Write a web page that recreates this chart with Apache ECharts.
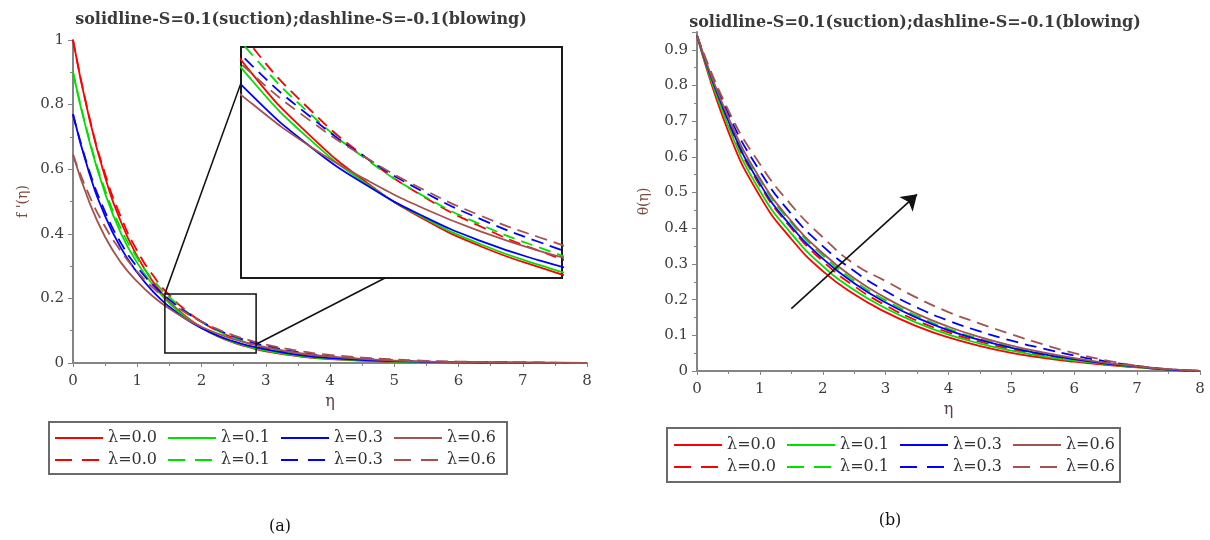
<!DOCTYPE html>
<html>
<head>
<meta charset="utf-8">
<title>f'(η) and θ(η) profiles</title>
<script src="https://cdn.jsdelivr.net/npm/echarts@6/dist/echarts.min.js"></script>
<style>
html, body { margin: 0; padding: 0; background: #fff; }
#chart { width: 1210px; height: 540px; }
</style>
</head>
<body>
<div id="chart"></div>
<script>
// eta grid and profiles
var etaA = [0, 0.25, 0.5, 0.75, 1, 1.25, 1.5, 1.75, 2, 2.25, 2.5, 2.75, 3, 3.5, 4, 5, 6, 7, 8];

// (a) f'(eta), solid = S=0.1 (suction)
var fRedS   = [1.0, 0.76, 0.575, 0.435, 0.33, 0.25, 0.19, 0.145, 0.11, 0.083, 0.063, 0.048, 0.036, 0.021, 0.012, 0.004, 0.0015, 0.0005, 0];
var fGreenS = [0.9, 0.69, 0.525, 0.40, 0.31, 0.24, 0.185, 0.142, 0.109, 0.084, 0.0645, 0.0496, 0.038, 0.022, 0.013, 0.0045, 0.0016, 0.0005, 0];
var fBlueS  = [0.77, 0.59, 0.455, 0.355, 0.28, 0.22, 0.174, 0.137, 0.108, 0.085, 0.067, 0.053, 0.042, 0.025, 0.015, 0.0055, 0.002, 0.0007, 0];
var fBrownS = [0.645, 0.50, 0.39, 0.31, 0.252, 0.205, 0.168, 0.137, 0.112, 0.091, 0.074, 0.06, 0.049, 0.031, 0.02, 0.0075, 0.0028, 0.001, 0];
// dashed = S=-0.1 (blowing)
var fRedD   = [1.0, 0.765, 0.585, 0.45, 0.347, 0.27, 0.21, 0.164, 0.128, 0.0995, 0.0775, 0.06, 0.0465, 0.028, 0.017, 0.0063, 0.0024, 0.0009, 0];
var fGreenD = [0.9, 0.695, 0.535, 0.415, 0.325, 0.256, 0.204, 0.161, 0.127, 0.1, 0.079, 0.0625, 0.049, 0.03, 0.018, 0.0068, 0.0026, 0.001, 0];
var fBlueD  = [0.77, 0.597, 0.468, 0.37, 0.297, 0.241, 0.196, 0.159, 0.128, 0.103, 0.083, 0.0665, 0.053, 0.034, 0.021, 0.0082, 0.0032, 0.0012, 0];
var fBrownD = [0.645, 0.52, 0.422, 0.345, 0.283, 0.232, 0.19, 0.156, 0.128, 0.1047, 0.0855, 0.07, 0.057, 0.038, 0.025, 0.011, 0.0045, 0.0017, 0];

// (b) theta(eta)
var etaB = [0, 0.5, 1, 1.5, 2, 2.5, 3, 3.5, 4, 4.5, 5, 5.5, 6, 6.5, 7, 7.5, 8];
var tRedS   = [0.94, 0.67, 0.49, 0.37, 0.28, 0.215, 0.165, 0.125, 0.094, 0.07, 0.051, 0.037, 0.026, 0.017, 0.01, 0.004, 0];
var tGreenS = [0.94, 0.685, 0.505, 0.385, 0.294, 0.227, 0.176, 0.135, 0.102, 0.077, 0.057, 0.041, 0.029, 0.019, 0.011, 0.004, 0];
var tBlueS  = [0.94, 0.70, 0.525, 0.405, 0.315, 0.246, 0.192, 0.149, 0.114, 0.087, 0.065, 0.047, 0.033, 0.021, 0.012, 0.004, 0];
var tBrownS = [0.94, 0.71, 0.54, 0.42, 0.33, 0.26, 0.205, 0.16, 0.124, 0.095, 0.071, 0.052, 0.036, 0.023, 0.013, 0.005, 0];
var tRedD   = [0.94, 0.695, 0.52, 0.40, 0.308, 0.238, 0.184, 0.141, 0.108, 0.082, 0.061, 0.044, 0.031, 0.02, 0.011, 0.004, 0];
var tGreenD = [0.94, 0.705, 0.535, 0.415, 0.324, 0.253, 0.198, 0.154, 0.118, 0.09, 0.068, 0.049, 0.034, 0.022, 0.012, 0.004, 0];
var tBlueD  = [0.94, 0.72, 0.56, 0.44, 0.35, 0.28, 0.224, 0.178, 0.141, 0.111, 0.085, 0.063, 0.043, 0.027, 0.014, 0.005, 0];
var tBrownD = [0.94, 0.73, 0.58, 0.465, 0.375, 0.30, 0.252, 0.205, 0.165, 0.133, 0.103, 0.075, 0.05, 0.03, 0.015, 0.005, 0];

var lambdaLabels = ['λ=0.0', 'λ=0.1', 'λ=0.3', 'λ=0.6'];
var titleText = 'solidline-S=0.1(suction);dashline-S=-0.1(blowing)';

// zoomed window in (a) and the arrow in (b), in data units
var zoomBox = [1.43, 0.031, 2.85, 0.214];
var insetX = [1.45, 2.85];
var insetY = [0.04, 0.21];
var arrowFrom = [1.5, 0.175];
var arrowTo = [3.5, 0.495];

var colors = ['#ff0000', '#00e000', '#0000ff', '#a5524e'];
var serif = 'DejaVu Serif';
var axisGray = '#858585';
var dash = [12, 7];

var chart = echarts.init(document.getElementById('chart'));

function pairs(xs, ys) {
    return xs.map(function (x, i) { return [x, ys[i]]; });
}

function line(name, xs, ys, color, dashed, xi, yi) {
    return {
        name: name,
        type: 'line',
        xAxisIndex: xi,
        yAxisIndex: yi,
        data: pairs(xs, ys),
        smooth: true,
        symbol: 'none',
        silent: true,
        lineStyle: { color: color, width: 1.8, type: dashed ? dash : 'solid' },
        itemStyle: { color: color }
    };
}

function xAxisMain(gi, gap) {
    return {
        type: 'value', gridIndex: gi, min: 0, max: 8, interval: 1,
        name: 'η', nameLocation: 'middle', nameGap: gap,
        nameTextStyle: { fontFamily: serif, fontSize: 16, color: '#5a3d50' },
        axisLine: { show: true, onZero: false, lineStyle: { color: axisGray, width: 2 } },
        axisTick: { length: 4, lineStyle: { color: axisGray } },
        minorTick: { show: true, splitNumber: 2, length: 3, lineStyle: { color: axisGray } },
        axisLabel: { margin: 11, fontFamily: serif, fontSize: 15, color: '#3c3c3c' },
        splitLine: { show: false }
    };
}

function yAxisMain(gi, max, interval, name, gap, hideMax) {
    return {
        type: 'value', gridIndex: gi, min: 0, max: max, interval: interval,
        name: name, nameLocation: 'middle', nameGap: gap, nameRotate: 90,
        nameTextStyle: { fontFamily: serif, fontSize: 14, color: '#7a4b40' },
        axisLine: { show: true, onZero: false, lineStyle: { color: axisGray, width: 2 } },
        axisTick: { show: true, length: 5, lineStyle: { color: axisGray } },
        minorTick: { show: true, splitNumber: 2, length: 3, lineStyle: { color: axisGray } },
        axisLabel: { margin: 9, fontFamily: serif, fontSize: 15, color: '#3c3c3c', showMaxLabel: !hideMax },
        splitLine: { show: false }
    };
}

var fSolid = [fRedS, fGreenS, fBlueS, fBrownS];
var fDash = [fRedD, fGreenD, fBlueD, fBrownD];
var tSolid = [tRedS, tGreenS, tBlueS, tBrownS];
var tDash = [tRedD, tGreenD, tBlueD, tBrownD];

var series = [];
var namesA = { s: [], d: [] }, namesB = { s: [], d: [] };
for (var i = 0; i < 4; i++) {
    var nas = 'a:' + lambdaLabels[i] + ':s', nad = 'a:' + lambdaLabels[i] + ':d';
    var nbs = 'b:' + lambdaLabels[i] + ':s', nbd = 'b:' + lambdaLabels[i] + ':d';
    namesA.s.push(nas); namesA.d.push(nad);
    namesB.s.push(nbs); namesB.d.push(nbd);
    series.push(line(nas, etaA, fSolid[i], colors[i], false, 0, 0));
    series.push(line(nad, etaA, fDash[i], colors[i], true, 0, 0));
    // inset copy
    series.push(line(nas, etaA, fSolid[i], colors[i], false, 1, 1));
    series.push(line(nad, etaA, fDash[i], colors[i], true, 1, 1));
    series.push(line(nbs, etaB, tSolid[i], colors[i], false, 2, 2));
    series.push(line(nbd, etaB, tDash[i], colors[i], true, 2, 2));
}

// arrow in (b)
series.push({
    type: 'line', xAxisIndex: 2, yAxisIndex: 2, data: [], silent: true,
    markLine: {
        silent: true, symbol: ['none', 'arrow'], symbolSize: 15,
        label: { show: false },
        lineStyle: { color: '#111', width: 1.6, type: 'solid' },
        data: [[{ coord: arrowFrom }, { coord: arrowTo }]]
    }
});

function legendRow(left, top, names, dashed) {
    var lg = {
        left: left, top: top, padding: 0, orient: 'horizontal',
        data: names, itemWidth: 48, itemHeight: 14, itemGap: 10,
        selectedMode: false,
        itemStyle: { opacity: 0 },
        textStyle: { fontFamily: serif, fontSize: 16, color: '#333', width: 50 },
        formatter: function (n) { return n.split(':')[1]; }
    };
    if (dashed) lg.lineStyle = { type: [17, 10], width: 2 };
    return lg;
}

chart.setOption({
    animation: false,
    backgroundColor: '#fff',
    grid: [
        { left: 73, top: 40, width: 514, height: 323 },
        { left: 241, top: 47, width: 321, height: 231, show: true, borderColor: '#1a1a1a', borderWidth: 2, backgroundColor: '#fff' },
        { left: 697, top: 32, width: 503, height: 339 }
    ],
    xAxis: [
        xAxisMain(0, 28),
        { type: 'value', gridIndex: 1, min: insetX[0], max: insetX[1], show: false },
        xAxisMain(2, 29)
    ],
    yAxis: [
        yAxisMain(0, 1, 0.2, "f '(η)", 43, false),
        { type: 'value', gridIndex: 1, min: insetY[0], max: insetY[1], show: false },
        yAxisMain(2, 0.95, 0.1, 'θ(η)', 46, true)
    ],
    legend: [
        legendRow(54, 430, namesA.s, false),
        legendRow(54, 452, namesA.d, true),
        legendRow(673, 437, namesB.s, false),
        legendRow(673, 459, namesB.d, true)
    ],
    series: series
});

// annotation graphics positioned from the axes
var p0 = chart.convertToPixel({ gridIndex: 0 }, [zoomBox[0], zoomBox[3]]);
var p1 = chart.convertToPixel({ gridIndex: 0 }, [zoomBox[2], zoomBox[1]]);
var pR = chart.convertToPixel({ gridIndex: 0 }, [zoomBox[2], 0.058]);

var titleStyle = { fontFamily: serif, fontSize: 16, fontWeight: 'bold', fill: '#3a3a3a', textAlign: 'center', textVerticalAlign: 'middle' };
var capStyle = { fontFamily: serif, fontSize: 16, fill: '#111', textAlign: 'center', textVerticalAlign: 'middle' };

chart.setOption({
    graphic: [
        { type: 'text', x: 301, y: 20, style: Object.assign({ text: titleText }, titleStyle) },
        { type: 'text', x: 915, y: 23, style: Object.assign({ text: titleText }, titleStyle) },
        { type: 'text', x: 280, y: 527, style: Object.assign({ text: '(a)' }, capStyle) },
        { type: 'text', x: 890, y: 521, style: Object.assign({ text: '(b)' }, capStyle) },
        { type: 'rect', shape: { x: 49, y: 422, width: 458, height: 52 }, style: { fill: 'none', stroke: '#6a6a6a', lineWidth: 2 } },
        { type: 'rect', shape: { x: 667, y: 428, width: 453, height: 54 }, style: { fill: 'none', stroke: '#6a6a6a', lineWidth: 2 } },
        { type: 'rect', shape: { x: p0[0], y: p0[1], width: p1[0] - p0[0], height: p1[1] - p0[1] }, style: { fill: 'none', stroke: '#111', lineWidth: 1.5 }, z: 10 },
        { type: 'line', shape: { x1: p0[0], y1: p0[1], x2: 241, y2: 83 }, style: { stroke: '#111', lineWidth: 1.5 }, z: 10 },
        { type: 'line', shape: { x1: pR[0], y1: pR[1], x2: 385, y2: 278 }, style: { stroke: '#111', lineWidth: 1.5 }, z: 10 }
    ]
});
</script>
</body>
</html>
